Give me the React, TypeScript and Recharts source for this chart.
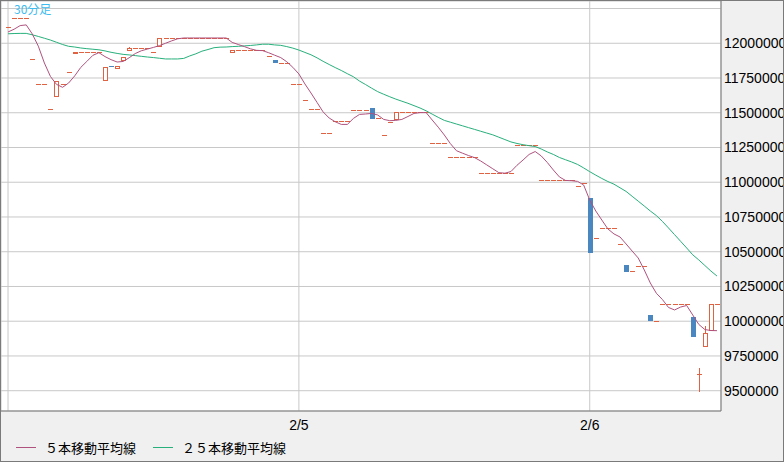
import React from 'react';
import { ComposedChart, Bar, Line, XAxis, YAxis, CartesianGrid } from 'recharts';

// 30-minute bars starting 2/4 00:00
const startDay = 4;
const dayLabels = ['2/4', '2/5', '2/6'];

const opens = [
  12119000, 12182000, 12182000, 12182000, 11885000, 11707000, 11707000, 11527000, 11610000, 11707000,
  11793000, 11921000, 11935000, 11935000, 11935000, 11935000, 11727000, 11836000, 11813000, 11875000,
  11942000, 11966000, 11966000, 11966000, 11937000, 11976000, 12038000, 12038000, 12038000, 12038000,
  12038000, 12038000, 12038000, 12038000, 12038000, 12038000, 12038000, 11928000, 11950000, 11950000,
  11950000, 11950000, 11950000, 11905000, 11880000, 11856000, 11856000, 11705000, 11705000, 11590000,
  11525000, 11525000, 11352000, 11352000, 11439000, 11439000, 11439000, 11518000, 11518000, 11518000,
  11534000, 11460000, 11338000, 11434000, 11446000, 11503000, 11503000, 11503000, 11503000, 11503000,
  11280000, 11280000, 11280000, 11180000, 11180000, 11180000, 11180000, 11180000, 11065000, 11065000,
  11065000, 11065000, 11065000, 11065000, 11266000, 11266000, 11266000, 11266000, 11013000, 11013000,
  11013000, 11013000, 11013000, 11013000, 10971000, 10993000, 10889000, 10597000, 10669000, 10669000,
  10669000, 10556000, 10405000, 10361000, 10397000, 10397000, 10045000, 9999000, 10122000, 10122000,
  10122000, 10122000, 10122000, 10031000, 9620000, 9812000, 9930000, 10122000,
];

const closes = [
  12119000, 12182000, 12182000, 12182000, 11885000, 11707000, 11707000, 11527000, 11728000, 11707000,
  11793000, 11935000, 11935000, 11935000, 11935000, 11935000, 11827000, 11832000, 11834000, 11899000,
  11966000, 11966000, 11966000, 11966000, 11937000, 12038000, 12038000, 12038000, 12038000, 12038000,
  12038000, 12038000, 12038000, 12038000, 12038000, 12038000, 12038000, 11950000, 11950000, 11950000,
  11950000, 11950000, 11950000, 11905000, 11860000, 11856000, 11856000, 11705000, 11705000, 11590000,
  11525000, 11525000, 11352000, 11352000, 11439000, 11439000, 11439000, 11518000, 11518000, 11518000,
  11457000, 11460000, 11338000, 11434000, 11503000, 11503000, 11503000, 11503000, 11503000, 11503000,
  11280000, 11280000, 11280000, 11180000, 11180000, 11180000, 11180000, 11180000, 11065000, 11065000,
  11065000, 11065000, 11065000, 11065000, 11266000, 11266000, 11266000, 11266000, 11013000, 11013000,
  11013000, 11013000, 11013000, 11013000, 10971000, 10993000, 10493000, 10597000, 10669000, 10669000,
  10669000, 10556000, 10357000, 10361000, 10397000, 10397000, 9999000, 9999000, 10122000, 10122000,
  10122000, 10122000, 10122000, 9887000, 9620000, 9917000, 10122000, 10122000,
];

// wicks that extend beyond the body
const wickHighIdx = [20, 114, 115];
const wickHighVal = [11976000, 9663000, 9966000];
const wickLowIdx = [114];
const wickLowVal = [9493000];

const ma5 = [
  12081000, 12101000, 12127000, 12132000, 12067000, 11979000, 11858000, 11761000, 11704000, 11683000,
  11714000, 11765000, 11826000, 11869000, 11913000, 11932000, 11904000, 11882000, 11865000, 11869000,
  11896000, 11926000, 11946000, 11958000, 11970000, 11983000, 12000000, 12017000, 12032000, 12038000,
  12038000, 12038000, 12038000, 12038000, 12038000, 12038000, 12038000, 12006000, 11991000, 11976000,
  11960000, 11949000, 11947000, 11932000, 11914000, 11897000, 11867000, 11827000, 11779000, 11707000,
  11642000, 11574000, 11506000, 11462000, 11435000, 11416000, 11416000, 11459000, 11488000, 11491000,
  11495000, 11484000, 11452000, 11443000, 11445000, 11452000, 11473000, 11495000, 11501000, 11501000,
  11448000, 11396000, 11340000, 11278000, 11227000, 11209000, 11192000, 11177000, 11153000, 11125000,
  11097000, 11069000, 11065000, 11077000, 11122000, 11160000, 11200000, 11221000, 11189000, 11142000,
  11088000, 11038000, 11013000, 11011000, 11006000, 10980000, 10872000, 10793000, 10728000, 10664000,
  10628000, 10606000, 10556000, 10505000, 10455000, 10369000, 10275000, 10201000, 10156000, 10099000,
  10081000, 10102000, 10113000, 10045000, 9977000, 9940000, 9933000, 9932000,
];

const ma25 = [
  12068000, 12070000, 12071000, 12071000, 12061000, 12049000, 12036000, 12023000, 12007000, 11991000,
  11978000, 11973000, 11966000, 11961000, 11957000, 11953000, 11945000, 11935000, 11927000, 11920000,
  11916000, 11911000, 11906000, 11901000, 11897000, 11892000, 11887000, 11887000, 11887000, 11891000,
  11909000, 11924000, 11943000, 11955000, 11968000, 11972000, 11973000, 11976000, 11978000, 11981000,
  11984000, 11988000, 11993000, 11993000, 11988000, 11985000, 11976000, 11965000, 11951000, 11934000,
  11917000, 11895000, 11870000, 11847000, 11825000, 11804000, 11781000, 11759000, 11728000, 11703000,
  11677000, 11652000, 11633000, 11615000, 11598000, 11583000, 11568000, 11551000, 11534000, 11514000,
  11490000, 11467000, 11445000, 11432000, 11419000, 11406000, 11393000, 11380000, 11367000, 11354000,
  11341000, 11324000, 11307000, 11290000, 11279000, 11270000, 11263000, 11257000, 11239000, 11218000,
  11200000, 11178000, 11162000, 11146000, 11128000, 11103000, 11076000, 11051000, 11027000, 11005000,
  10986000, 10960000, 10934000, 10899000, 10864000, 10829000, 10793000, 10760000, 10718000, 10671000,
  10623000, 10575000, 10527000, 10478000, 10441000, 10401000, 10361000, 10325000,
];

const yTicks = [9500000, 9750000, 10000000, 10250000, 10500000, 10750000, 11000000, 11250000, 11500000, 11750000, 12000000, 12250000];
const yDomain = [9354000, 12304000];

const RED = '#df6242';
const BLUE = '#4a87c0';
const MA5_COLOR = '#b0527e';
const MA25_COLOR = '#27b07c';
const GRID = '#c8c8c8';
const BORDER = '#7a7a7a';

const pad = (n: number) => (n < 10 ? '0' + n : '' + n);

const data = opens.map((o, i) => {
  const c = closes[i];
  const hiIdx = wickHighIdx.indexOf(i);
  const loIdx = wickLowIdx.indexOf(i);
  const hi = hiIdx >= 0 ? wickHighVal[hiIdx] : Math.max(o, c);
  const lo = loIdx >= 0 ? wickLowVal[loIdx] : Math.min(o, c);
  const day = startDay + Math.floor(i / 48);
  const slot = i % 48;
  const t = `2/${day} ${pad(Math.floor(slot / 2))}:${slot % 2 ? '30' : '00'}`;
  return { t, o, c, hi, lo, ma5: ma5[i], ma25: ma25[i] };
});

function Candle(props: any) {
  const { x, y, width, height, payload } = props;
  if (x == null || y == null || !payload) return null;
  const { o, c, hi, lo } = payload;
  const k = hi > lo ? height / (hi - lo) : 0;
  const yOf = (v: number) => y + (hi - v) * k;
  const rx = Math.round(x + width / 2 - 2.5);
  const top = Math.round(yOf(Math.max(o, c)));
  const bot = Math.round(yOf(Math.min(o, c)));
  const yHi = Math.round(yOf(hi));
  const yLo = Math.round(yOf(lo));
  const up = c >= o;
  const color = up ? RED : BLUE;
  const parts: React.ReactNode[] = [];
  if (yLo > yHi) {
    parts.push(<rect key="w" x={rx + 2} y={yHi} width={1} height={yLo - yHi} fill={color} />);
  }
  if (bot - top < 2) {
    parts.push(<rect key="d" x={rx} y={top} width={5} height={1} fill={color} />);
  } else if (up) {
    parts.push(
      <rect key="b" x={rx + 0.5} y={top + 0.5} width={4} height={bot - top - 1} fill="#ffffff" stroke={RED} strokeWidth={1} />
    );
  } else {
    parts.push(<rect key="b" x={rx} y={top} width={5} height={bot - top} fill={BLUE} />);
  }
  return <g>{parts}</g>;
}

const tickFont = { fontSize: 14, fill: '#000', fontFamily: 'Liberation Sans, Arial, sans-serif' };

export default function App() {
  return (
    <div style={{ position: 'absolute', left: 0, top: 0, width: 784, height: 462, background: '#f0f0f0', overflow: 'hidden' }}>
      <ComposedChart width={784} height={462} data={data} margin={{ top: 1, left: 1, right: 0, bottom: 0 }}>
        <CartesianGrid stroke={GRID} fill="#ffffff" />
        <XAxis
          dataKey="t"
          interval={47}
          tickFormatter={(v: string, idx: number) => {
            const d = String(v).split(' ')[0];
            return d === dayLabels[0] ? '' : d;
          }}
          tickLine={false}
          tickSize={0}
          tickMargin={9}
          axisLine={{ stroke: BORDER }}
          height={51}
          padding={{ left: 4, right: 1 }}
          tick={tickFont}
        />
        <YAxis
          orientation="right"
          type="number"
          domain={yDomain}
          allowDataOverflow
          ticks={yTicks}
          interval={0}
          tickFormatter={(v: number) => (v > 12000000 ? '' : String(v))}
          width={63}
          tickLine={false}
          tickSize={0}
          tickMargin={3}
          axisLine={{ stroke: BORDER }}
          tick={tickFont}
        />
        <Bar
          dataKey={(d: any) => [d.lo, d.hi]}
          barSize={5}
          shape={<Candle />}
          isAnimationActive={false}
        />
        <Line type="linear" dataKey="ma25" stroke={MA25_COLOR} strokeWidth={1} dot={false} activeDot={false} isAnimationActive={false} />
        <Line type="linear" dataKey="ma5" stroke={MA5_COLOR} strokeWidth={1} dot={false} activeDot={false} isAnimationActive={false} />
      </ComposedChart>
      <div style={{ position: 'absolute', left: 14, top: 2, fontSize: 12, lineHeight: '14px', color: '#3cbcf0', fontFamily: '"Noto Sans CJK JP", sans-serif' }}>30分足</div>
      <div style={{ position: 'absolute', left: 16, top: 447, width: 20, height: 1, background: MA5_COLOR }} />
      <div style={{ position: 'absolute', left: 45, top: 439, fontSize: 13, lineHeight: '17px', color: '#000', fontFamily: '"Noto Sans CJK JP", sans-serif', whiteSpace: 'nowrap' }}>５本移動平均線</div>
      <div style={{ position: 'absolute', left: 153, top: 447, width: 20, height: 1, background: MA25_COLOR }} />
      <div style={{ position: 'absolute', left: 182, top: 439, fontSize: 13, lineHeight: '17px', color: '#000', fontFamily: '"Noto Sans CJK JP", sans-serif', whiteSpace: 'nowrap' }}>２５本移動平均線</div>
      <div style={{ position: 'absolute', left: 0, top: 0, width: 784, height: 462, boxSizing: 'border-box', border: `1px solid ${BORDER}`, pointerEvents: 'none' }} />
    </div>
  );
}
